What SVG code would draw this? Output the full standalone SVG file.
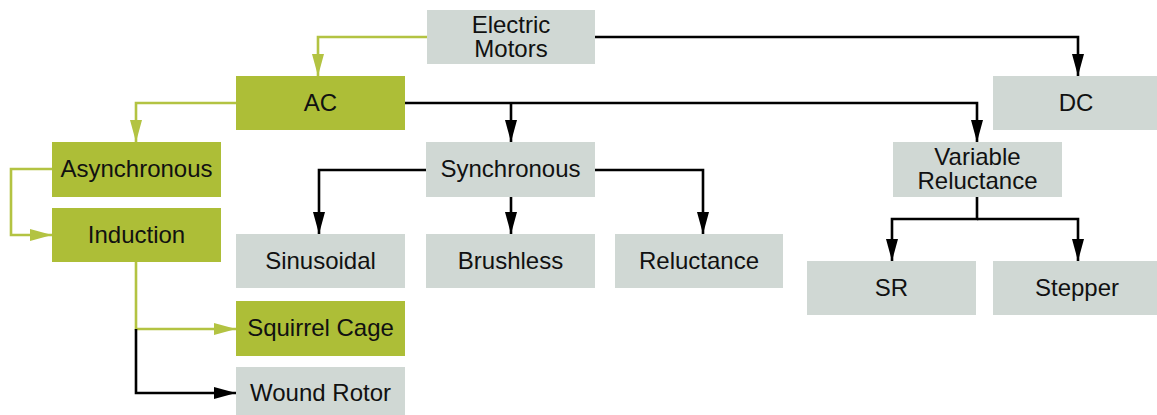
<svg xmlns="http://www.w3.org/2000/svg" width="1157" height="415" viewBox="0 0 1157 415">
<style>
.g{fill:#adbe37}
.n{fill:#d0d8d4}
text{font-family:"Liberation Sans",Arial,sans-serif;font-size:24px;fill:#111;text-anchor:middle}
.k{fill:none;stroke:#000;stroke-width:2.6}
.l{fill:none;stroke:#b3c342;stroke-width:2.6}
</style>
<defs>
<marker id="ak" markerUnits="userSpaceOnUse" markerWidth="22" markerHeight="12" refX="22" refY="6" orient="auto"><path d="M0,0L22,6L0,12z" fill="#000"/></marker>
<marker id="al" markerUnits="userSpaceOnUse" markerWidth="22" markerHeight="12" refX="22" refY="6" orient="auto"><path d="M0,0L22,6L0,12z" fill="#b3c342"/></marker>
</defs>
<rect width="1157" height="415" fill="#fff"/>
<g id="connectors">
<path class="l" d="M427,37H318V76" marker-end="url(#al)"/>
<path class="l" d="M236,103H136V142" marker-end="url(#al)"/>
<path class="l" d="M52,169H11V235H52" marker-end="url(#al)"/>
<path class="l" d="M136,262V329H236" marker-end="url(#al)"/>
<path class="k" d="M595,37H1078V76" marker-end="url(#ak)"/>
<path class="k" d="M405,103H977V142" marker-end="url(#ak)"/>
<path class="k" d="M511,103V142" marker-end="url(#ak)"/>
<path class="k" d="M426,170H319V234" marker-end="url(#ak)"/>
<path class="k" d="M511,197V234" marker-end="url(#ak)"/>
<path class="k" d="M595,170H703V234" marker-end="url(#ak)"/>
<path class="k" d="M977,197V219H892V261" marker-end="url(#ak)"/>
<path class="k" d="M977,219H1078V261" marker-end="url(#ak)"/>
<path class="k" d="M136,329V393H236" marker-end="url(#ak)"/>
</g>
<g id="electric-motors"><rect class="n" x="427" y="10" width="168" height="54"/><text x="511" y="33">Electric</text><text x="511" y="57">Motors</text></g>
<g id="ac"><rect class="g" x="236" y="76" width="169" height="54"/><text x="320.5" y="111">AC</text></g>
<g id="dc"><rect class="n" x="993" y="76" width="164" height="54"/><text x="1076" y="111">DC</text></g>
<g id="asynchronous"><rect class="g" x="52" y="142" width="169" height="55"/><text x="136.5" y="177">Asynchronous</text></g>
<g id="induction"><rect class="g" x="52" y="208" width="169" height="54"/><text x="136.5" y="243">Induction</text></g>
<g id="synchronous"><rect class="n" x="426" y="142" width="169" height="55"/><text x="510.5" y="177">Synchronous</text></g>
<g id="variable-reluctance"><rect class="n" x="893" y="142" width="169" height="55"/><text x="977.5" y="165">Variable</text><text x="977.5" y="189">Reluctance</text></g>
<g id="sinusoidal"><rect class="n" x="236" y="234" width="169" height="54"/><text x="320.5" y="269">Sinusoidal</text></g>
<g id="brushless"><rect class="n" x="426" y="234" width="169" height="54"/><text x="510.5" y="269">Brushless</text></g>
<g id="reluctance"><rect class="n" x="615" y="234" width="168" height="54"/><text x="699" y="269">Reluctance</text></g>
<g id="sr"><rect class="n" x="807" y="261" width="169" height="54"/><text x="891.5" y="296">SR</text></g>
<g id="stepper"><rect class="n" x="993" y="261" width="164" height="54"/><text x="1077" y="296">Stepper</text></g>
<g id="squirrel-cage"><rect class="g" x="236" y="301" width="169" height="55"/><text x="320.5" y="336">Squirrel Cage</text></g>
<g id="wound-rotor"><rect class="n" x="236" y="367" width="169" height="48"/><text x="320.5" y="401">Wound Rotor</text></g>
</svg>
